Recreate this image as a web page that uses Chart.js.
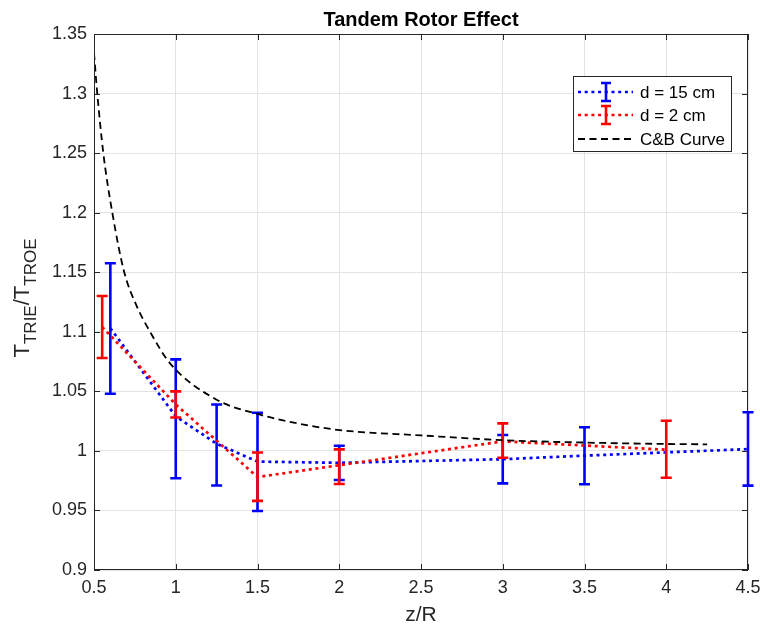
<!DOCTYPE html>
<html>
<head>
<meta charset="utf-8">
<script src="https://cdn.jsdelivr.net/npm/chart.js@4.4.1/dist/chart.umd.min.js"></script>
<style>
  html, body { margin: 0; padding: 0; background: #fff; }
</style>
</head>
<body>
<canvas id="chart" width="760" height="628"></canvas>
<script>
// axis ticks
const xTicks = [0.5, 1, 1.5, 2, 2.5, 3, 3.5, 4, 4.5];
const yTicks = [0.9, 0.95, 1, 1.05, 1.1, 1.15, 1.2, 1.25, 1.3, 1.35];

// d = 15 cm
const blueZ    = [0.6, 1, 1.25, 1.5, 2, 3, 3.5, 4.5];
const blueMean = [1.103, 1.029, 1.006, 0.991, 0.990, 0.993, 0.996, 1.0015];
const blueLow  = [1.048, 0.977, 0.971, 0.9495, 0.9755, 0.9727, 0.972, 0.9708];
const blueHigh = [1.1575, 1.0768, 1.039, 1.032, 1.0043, 1.0133, 1.0198, 1.0324];

// d = 2 cm
const redZ    = [0.55, 1, 1.5, 2, 3, 4];
const redMean = [1.104, 1.039, 0.978, 0.988, 1.008, 1.001];
const redLow  = [1.078, 1.028, 0.958, 0.9722, 0.9943, 0.9775];
const redHigh = [1.130, 1.050, 0.9987, 1.0013, 1.0231, 1.0253];

// C&B curve
const cbZ = [0.5, 0.52, 0.557, 0.612, 0.685, 0.76, 0.843, 0.965, 1.25, 1.5, 1.75, 2, 2.5, 3, 3.5, 4, 4.25];
const cbT = [1.334, 1.30, 1.25, 1.20, 1.15, 1.122, 1.10, 1.0735, 1.043, 1.031, 1.023, 1.0175, 1.013, 1.009, 1.007, 1.0058, 1.0055];

const FONT = '"Liberation Sans", Arial, Helvetica, sans-serif';
const AXIS_COLOR = '#262626';
const BLUE = '#0000ff';
const RED = '#ff0000';

const pts = (xs, ys) => xs.map((x, i) => ({ x: x, y: ys[i] }));
const fmt = v => String(Math.round(v * 100) / 100);

function drawErrBar(ctx, x, yLo, yHi, color, cap) {
    ctx.save();
    ctx.strokeStyle = color;
    ctx.lineWidth = 2.6;
    ctx.setLineDash([]);
    ctx.beginPath();
    ctx.moveTo(x, yLo); ctx.lineTo(x, yHi);
    ctx.moveTo(x - cap, yLo); ctx.lineTo(x + cap, yLo);
    ctx.moveTo(x - cap, yHi); ctx.lineTo(x + cap, yHi);
    ctx.stroke();
    ctx.restore();
}

const errorBars = {
    id: 'errorBars',
    afterDatasetDraw(chart, args) {
        const ds = chart.data.datasets[args.index];
        if (!ds.errLow) return;
        const { ctx, scales: { x, y } } = chart;
        ds.data.forEach((p, i) => {
            drawErrBar(ctx, x.getPixelForValue(p.x), y.getPixelForValue(ds.errLow[i]),
                y.getPixelForValue(ds.errHigh[i]), ds.borderColor, 5.5);
        });
    }
};

const decor = {
    id: 'decor',
    afterDraw(chart) {
        const { ctx, chartArea: a, scales: { x, y } } = chart;
        ctx.save();
        // box + inward ticks
        ctx.strokeStyle = AXIS_COLOR;
        ctx.lineWidth = 1;
        ctx.strokeRect(a.left + 0.5, a.top + 0.5, a.right - a.left - 1, a.bottom - a.top - 1);
        ctx.beginPath();
        xTicks.forEach(v => {
            const px = Math.round(x.getPixelForValue(v)) + 0.5;
            ctx.moveTo(px, a.bottom); ctx.lineTo(px, a.bottom - 6);
            ctx.moveTo(px, a.top); ctx.lineTo(px, a.top + 6);
        });
        yTicks.forEach(v => {
            const py = Math.round(y.getPixelForValue(v)) + 0.5;
            ctx.moveTo(a.left, py); ctx.lineTo(a.left + 6, py);
            ctx.moveTo(a.right, py); ctx.lineTo(a.right - 6, py);
        });
        ctx.stroke();

        // title
        const cx = (a.left + a.right) / 2;
        ctx.fillStyle = '#000';
        ctx.font = 'bold 20px ' + FONT;
        ctx.textAlign = 'center';
        ctx.textBaseline = 'alphabetic';
        ctx.fillText('Tandem Rotor Effect', cx, 26);

        // x label
        ctx.fillStyle = AXIS_COLOR;
        ctx.font = '21px ' + FONT;
        ctx.fillText('z/R', cx, 621);

        // y label with subscripts
        const parts = [
            { t: 'T', size: 22, dy: 0 },
            { t: 'TRIE', size: 17, dy: 7 },
            { t: '/T', size: 22, dy: 0 },
            { t: 'TROE', size: 17, dy: 7 }
        ];
        let total = 0;
        parts.forEach(p => { ctx.font = p.size + 'px ' + FONT; p.w = ctx.measureText(p.t).width; total += p.w; });
        ctx.translate(29, 298);
        ctx.rotate(-Math.PI / 2);
        ctx.textAlign = 'left';
        let tx = -total / 2;
        parts.forEach(p => { ctx.font = p.size + 'px ' + FONT; ctx.fillText(p.t, tx, p.dy); tx += p.w; });
        ctx.restore();

        // legend
        ctx.save();
        const lx = 573.5, ly = 76.5, lw = 158, lh = 75;
        ctx.fillStyle = '#fff';
        ctx.fillRect(lx, ly, lw, lh);
        ctx.strokeStyle = AXIS_COLOR;
        ctx.lineWidth = 1;
        ctx.strokeRect(lx, ly, lw, lh);
        const rows = [
            { label: 'd = 15 cm', color: BLUE, dash: [3, 3.7], width: 2.7, err: true, yy: 92 },
            { label: 'd = 2 cm', color: RED, dash: [3, 3.7], width: 2.7, err: true, yy: 115 },
            { label: 'C&B Curve', color: '#000', dash: [7, 4.5], width: 1.8, err: false, yy: 139 }
        ];
        rows.forEach(r => {
            ctx.strokeStyle = r.color;
            ctx.lineWidth = r.width;
            ctx.setLineDash(r.dash);
            ctx.beginPath();
            ctx.moveTo(578, r.yy); ctx.lineTo(633, r.yy);
            ctx.stroke();
            if (r.err) drawErrBar(ctx, 606, r.yy + 9, r.yy - 9, r.color, 5);
            ctx.setLineDash([]);
            ctx.fillStyle = '#000';
            ctx.font = '17px ' + FONT;
            ctx.textAlign = 'left';
            ctx.textBaseline = 'middle';
            ctx.fillText(r.label, 640, r.yy + 1);
        });
        ctx.restore();
    }
};

new Chart(document.getElementById('chart').getContext('2d'), {
    type: 'line',
    data: {
        datasets: [
            {
                label: 'd = 15 cm',
                data: pts(blueZ, blueMean),
                errLow: blueLow, errHigh: blueHigh,
                borderColor: BLUE, borderWidth: 2.7, borderDash: [3, 3.7],
                pointRadius: 0, tension: 0, order: 3
            },
            {
                label: 'd = 2 cm',
                data: pts(redZ, redMean),
                errLow: redLow, errHigh: redHigh,
                borderColor: RED, borderWidth: 2.7, borderDash: [3, 3.7],
                pointRadius: 0, tension: 0, order: 2
            },
            {
                label: 'C&B Curve',
                data: pts(cbZ, cbT),
                borderColor: '#000', borderWidth: 1.8, borderDash: [7, 4.5],
                pointRadius: 0, cubicInterpolationMode: 'monotone', order: 1
            }
        ]
    },
    options: {
        responsive: false,
        animation: false,
        devicePixelRatio: 1,
        layout: { padding: { left: 0, right: 12, top: 34, bottom: 0 }, autoPadding: false },
        plugins: { legend: { display: false }, tooltip: { enabled: false }, title: { display: false } },
        scales: {
            x: {
                type: 'linear', min: 0.5, max: 4.5,
                afterBuildTicks: s => { s.ticks = xTicks.map(v => ({ value: v })); },
                afterFit: s => { s.height = 58; s.paddingLeft = 0; s.paddingRight = 0; },
                grid: { color: '#e3e3e3', lineWidth: 1, drawTicks: false },
                border: { display: false },
                ticks: { font: { family: FONT, size: 18 }, color: AXIS_COLOR, padding: 7, maxRotation: 0, autoSkip: false, callback: fmt }
            },
            y: {
                type: 'linear', min: 0.9, max: 1.35,
                afterBuildTicks: s => { s.ticks = yTicks.map(v => ({ value: v })); },
                afterFit: s => { s.width = 94; s.paddingTop = 0; s.paddingBottom = 0; },
                grid: { color: '#e3e3e3', lineWidth: 1, drawTicks: false },
                border: { display: false },
                ticks: { font: { family: FONT, size: 18 }, color: AXIS_COLOR, padding: 7, autoSkip: false, callback: fmt }
            }
        }
    },
    plugins: [errorBars, decor]
});
</script>
</body>
</html>
